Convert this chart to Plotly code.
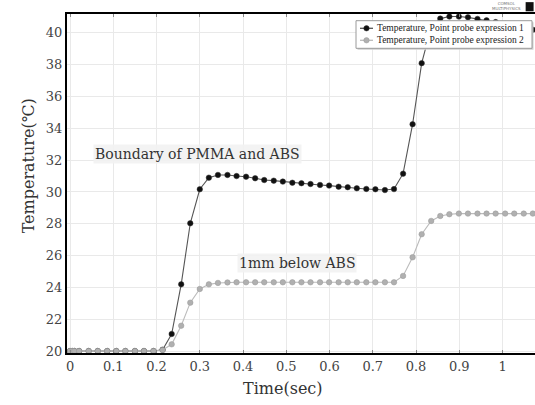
import plotly.graph_objects as go

time_s = [0, 0.005, 0.010, 0.021, 0.043, 0.064, 0.086, 0.107, 0.128, 0.150, 0.171, 0.193,
          0.214, 0.235, 0.257, 0.278, 0.300, 0.321, 0.342, 0.364, 0.385, 0.407,
          0.428, 0.449, 0.471, 0.492, 0.514, 0.535, 0.556, 0.578, 0.599, 0.621,
          0.642, 0.663, 0.685, 0.706, 0.728, 0.749, 0.770, 0.792, 0.813, 0.835,
          0.856, 0.877, 0.899, 0.920, 0.942, 0.963, 0.984, 1.006, 1.027, 1.049, 1.070]

temp_probe1 = [20.0, 20.0, 20.0, 20.0, 20.0, 20.0, 20.0, 20.0, 20.0, 20.0, 20.0, 20.0,
               20.08, 21.07, 24.19, 28.03, 30.17, 30.90, 31.07, 31.07, 31.00, 30.96,
               30.86, 30.75, 30.71, 30.65, 30.58, 30.55, 30.50, 30.44, 30.40, 30.33,
               30.30, 30.23, 30.19, 30.17, 30.12, 30.18, 31.15, 34.26, 38.10, 40.35,
               40.90, 41.03, 41.03, 40.98, 40.88, 40.79, 40.68, 40.56, 40.44, 40.32, 40.20]

temp_probe2 = [20.0, 20.0, 20.0, 20.0, 20.0, 20.0, 20.0, 20.0, 20.0, 20.0, 20.0, 20.0,
               20.06, 20.42, 21.59, 23.04, 23.90, 24.19, 24.28, 24.31, 24.32, 24.32,
               24.32, 24.32, 24.32, 24.32, 24.32, 24.32, 24.32, 24.32, 24.32, 24.32,
               24.32, 24.32, 24.32, 24.32, 24.32, 24.32, 24.72, 25.89, 27.34, 28.18,
               28.49, 28.60, 28.64, 28.64, 28.64, 28.64, 28.64, 28.64, 28.64, 28.64, 28.64]

series_names = ["Temperature, Point probe expression 1", "Temperature, Point probe expression 2"]
x_ticks = [0, 0.1, 0.2, 0.3, 0.4, 0.5, 0.6, 0.7, 0.8, 0.9, 1]
x_tick_text = ["0", "0.1", "0.2", "0.3", "0.4", "0.5", "0.6", "0.7", "0.8", "0.9", "1"]
y_ticks = [20, 22, 24, 26, 28, 30, 32, 34, 36, 38, 40]

SERIF = "DejaVu Serif"
W, H = 535, 405
ML, MT, MB = 67, 14, 52
PW, PH = W - ML, H - MT - MB

line_colors = ["#555555", "#bbbbbb"]
marker_colors = ["#111111", "#b0b0b0"]
marker_edges = ["#333333", "#999999"]


def px_x(px):
    return (px - ML) / PW


def px_y(py):
    return (H - MB - py) / PH


fig = go.Figure()
for name, ys, lc, mc, me in zip(series_names, [temp_probe1, temp_probe2],
                                line_colors, marker_colors, marker_edges):
    fig.add_trace(go.Scatter(
        x=time_s, y=ys, mode="lines+markers", name=name,
        line=dict(color=lc, width=1.1),
        marker=dict(color=mc, size=5.5, line=dict(color=me, width=0.5)),
    ))

fig.update_layout(
    width=W, height=H,
    margin=dict(l=ML, r=0, t=MT, b=MB),
    paper_bgcolor="white", plot_bgcolor="white",
    font=dict(family=SERIF, color="#333333"),
    showlegend=False,
    xaxis=dict(
        range=[-0.007, 1.075], tickvals=x_ticks, ticktext=x_tick_text,
        showgrid=True, gridcolor="#e9e9e9", gridwidth=1, zeroline=False,
        showline=True, linecolor="black", linewidth=2, mirror="ticks",
        ticks="inside", ticklen=3, tickcolor="#888888", automargin=False,
        tickfont=dict(family=SERIF, size=13, color="#444444"),
    ),
    yaxis=dict(
        range=[19.874, 41.19], tickvals=y_ticks,
        showgrid=True, gridcolor="#e9e9e9", gridwidth=1, zeroline=False,
        showline=True, linecolor="black", linewidth=2, mirror=False,
        ticks="", automargin=False,
        tickfont=dict(family=SERIF, size=13, color="#444444"),
    ),
)

# axis titles
fig.add_annotation(text="Temperature(℃)", xref="paper", yref="paper", x=0, y=0.552,
                   xshift=-50, textangle=-90, showarrow=False,
                   font=dict(family=SERIF, size=16, color="#333333"))
fig.add_annotation(text="Time(sec)", xref="paper", yref="paper", x=0.4626, y=0,
                   yshift=-35, yanchor="middle", showarrow=False,
                   font=dict(family=SERIF, size=16, color="#333333"))

# in-plot labels
fig.add_annotation(text="Boundary of PMMA and ABS", x=0.2946, y=32.39, showarrow=False,
                   bgcolor="rgba(242,242,242,0.9)",
                   font=dict(family=SERIF, size=14, color="#333333"))
fig.add_annotation(text="1mm below ABS", x=0.5236, y=25.53, showarrow=False,
                   bgcolor="rgba(242,242,242,0.9)",
                   font=dict(family=SERIF, size=14, color="#333333"))

# custom compact legend (box, symbols, texts)
fig.add_shape(type="rect", xref="paper", yref="paper", layer="above",
              x0=px_x(357.5), x1=px_x(533.5), y0=px_y(49.8), y1=px_y(22.2),
              fillcolor="#cfcfcf", line=dict(width=0))
fig.add_shape(type="rect", xref="paper", yref="paper", layer="above",
              x0=px_x(356), x1=px_x(532), y0=px_y(48.3), y1=px_y(20.7),
              fillcolor="white", line=dict(color="#9a9a9a", width=1))
for i, (name, lc, mc, me) in enumerate(zip(series_names, line_colors, marker_colors, marker_edges)):
    cy = 28.3 + i * 12
    fig.add_shape(type="line", xref="paper", yref="paper", layer="above",
                  x0=px_x(360), x1=px_x(373), y0=px_y(cy), y1=px_y(cy),
                  line=dict(color=lc, width=1.3))
    fig.add_shape(type="circle", xref="paper", yref="paper", layer="above",
                  x0=px_x(363.8), x1=px_x(369.2), y0=px_y(cy + 2.7), y1=px_y(cy - 2.7),
                  fillcolor=mc, line=dict(color=me, width=0.5))
    fig.add_annotation(text=name, xref="paper", yref="paper", x=px_x(375), y=px_y(cy),
                       xanchor="left", yanchor="middle", showarrow=False,
                       font=dict(family="Liberation Serif", size=9.5, color="#222222"))

# logo text
fig.add_annotation(text="COMSOL<br>MULTIPHYSICS", xref="paper", yref="paper",
                   x=0.975, y=1.0, yshift=8, xanchor="right", yanchor="middle",
                   showarrow=False, font=dict(family="DejaVu Sans", size=4, color="#777777"))
fig.add_shape(type="rect", xref="paper", yref="paper", x0=0.98, x1=0.997,
              y0=1.008, y1=1.035, fillcolor="#111111", line=dict(width=0))

fig.write_html("out.html", config={"displayModeBar": False, "staticPlot": True},
               post_script="document.body.style.margin='0';document.body.style.overflow='hidden';")
